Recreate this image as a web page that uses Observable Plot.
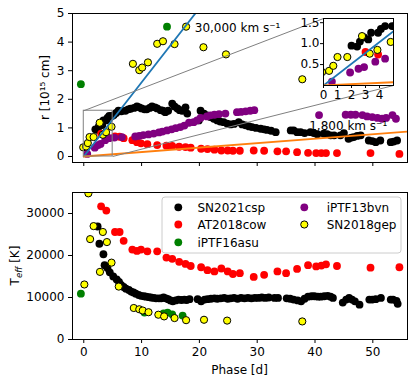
<!DOCTYPE html>
<html><head><meta charset="utf-8">
<script src="https://cdn.jsdelivr.net/npm/d3@7"></script>
<script src="https://cdn.jsdelivr.net/npm/@observablehq/plot@0.6"></script>
<style>
body{margin:0;background:#fff;font-family:"DejaVu Sans",sans-serif;}
#chart{position:relative;width:416px;height:385px;overflow:hidden;background:#fff;}
#chart svg{position:absolute;}
</style></head><body><div id="chart"></div>
<script>
// ---------- data ----------
const series = ["SN2021csp","AT2018cow","iPTF16asu","iPTF13bvn","SN2018gep"];
const seriesFill = ["black","red","green","purple","yellow"];
const seriesEdge = ["none","none","none","none","black"];

// radius panel (phase [d], r [1e15 cm])
const cspRPhase = [2.0,2.4,2.6,2.9,3.2,3.4,3.9,4.1,4.4,4.9,5.2,5.6,6.0,6.5,7.2,7.7,8.1,8.7,9.2,9.6,10.0,10.5,10.9,11.4,11.8,12.3,12.7,13.3,13.7,14.1,14.6,15.3,15.7,16.2,16.6,17.0,17.6,17.9,19.9,20.2,20.8,21.3,21.9,22.5,23.1,23.6,24.2,24.8,25.4,26.0,26.8,27.4,28.0,28.6,29.1,29.8,30.6,31.2,31.7,32.4,33.2,35.8,36.3,36.9,37.5,38.2,39.2,39.8,40.4,41.5,42.1,42.7,43.3,44.4,45.0,45.8,46.3,46.7,47.3,47.9,49.3,49.9,50.5,51.3,53.1,53.6,54.2];
const cspR = [0.95,0.93,1.05,1.15,1.1,1.26,1.26,1.35,1.42,1.42,1.45,1.52,1.6,1.58,1.6,1.65,1.67,1.7,1.75,1.72,1.68,1.65,1.65,1.7,1.75,1.72,1.68,1.62,1.6,1.55,1.6,1.85,1.75,1.68,1.62,1.6,1.72,1.5,1.26,1.6,1.5,1.44,1.38,1.32,1.26,1.22,1.2,1.15,1.12,1.14,1.2,1.12,1.09,1.05,1.03,1.0,0.97,0.95,0.93,0.9,0.85,0.91,0.91,0.85,0.85,0.82,0.85,0.82,0.78,0.8,0.78,0.74,0.74,0.74,0.82,0.62,0.66,0.68,0.72,0.74,0.56,0.54,0.5,0.56,0.5,0.52,0.56];

const cowPhase = [3.0,3.9,5.4,6.2,6.9,8.4,9.2,9.9,11.0,12.7,14.3,15.3,16.5,17.6,18.5,20.3,21.4,22.6,23.8,24.9,25.8,27.0,29.4,31.2,33.5,35.0,36.9,38.8,40.2,41.1,41.9,43.8,49.6,54.6];
const cowR = [0.80,0.74,0.70,0.69,0.64,0.57,0.50,0.46,0.43,0.40,0.38,0.37,0.34,0.33,0.31,0.27,0.26,0.24,0.21,0.21,0.20,0.20,0.21,0.20,0.18,0.18,0.15,0.13,0.12,0.12,0.12,0.12,0.12,0.09];
const cowT = [31700,30700,25600,25600,23500,21400,21100,21400,21000,21000,19500,19200,18500,18000,17500,17200,16500,16200,16900,16200,15600,15800,14900,15400,16200,15800,16800,17700,17400,17600,17900,17500,17100,17200];

const asuRPhase = [-0.5,14.4];
const asuR = [2.53,4.54];

const bvnRPhase = [0.6,1.9,2.5,2.9,3.7,4.4,5.3,6.6,8.9,9.6,10.3,11.2,12.1,13.0,13.6,14.4,15.2,15.9,16.7,17.4,18.2,19.0,19.6,20.2,21.3,21.9,22.6,23.4,24.5,26.5,27.2,28.0,28.8,29.5,40.7,45.3,46.2,47.0,48.2,49.0,49.9,50.8,51.6,52.3,53.4,54.0];
const bvnR = [0.09,0.31,0.4,0.44,0.57,0.64,0.66,0.68,0.7,0.72,0.75,0.77,0.8,0.84,0.87,0.91,0.95,0.99,1.03,1.08,1.18,1.2,1.26,1.35,1.4,1.44,1.46,1.48,1.5,1.55,1.56,1.58,1.6,1.62,1.45,1.46,1.46,1.46,1.45,1.4,1.38,1.35,1.32,1.35,1.45,1.32];

const gepRPhase = [-0.1,0.4,0.7,1.0,1.7,2.75,3.3,3.85,4.8,8.5,9.6,10.1,11.1,12.7,13.7,15.7,17.7,20.7,24.6,37.8];
const gepR = [0.32,0.35,0.47,0.68,0.68,1.18,0.76,0.85,1.04,3.24,3.02,3.11,3.29,3.94,4.03,3.93,4.54,3.82,3.57,2.70];

// temperature panel (phase [d], T_eff [K])
const cspTPhase = [2.4,2.7,3.4,3.6,4.1,4.5,5.1,5.7,6.1,6.45,6.9,7.3,7.8,8.2,8.6,9.0,9.5,9.9,10.4,10.8,11.2,11.6,12.1,12.5,13.0,13.4,13.8,14.2,14.6,15.0,15.4,15.9,16.4,16.9,17.4,17.8,18.3,19.7,20.3,20.9,21.4,22.0,22.6,23.1,23.7,24.3,24.9,25.4,26.0,26.6,27.2,27.8,28.4,29.0,29.6,30.2,30.8,31.4,32.0,33.0,33.6,35.1,35.7,36.3,37.0,37.6,38.2,38.8,39.4,39.9,40.5,41.0,41.6,42.2,42.7,43.1,44.8,45.4,45.9,46.4,46.9,47.7,49.4,49.9,50.5,51.4,53.1,53.5,54.1,54.3];
const cspT = [26900,22800,20300,17700,17000,16000,15000,14300,13700,13000,12500,12100,11800,11400,11200,10900,10600,10400,10300,10200,10100,10000,9900,9800,9800,9800,10000,9800,9600,9300,9100,9300,9500,9400,9500,9400,9600,9600,9100,9500,9600,9700,9800,9700,9800,9900,9700,9800,9900,9700,9900,9800,9900,9800,9900,9900,10000,9900,10000,9900,9900,9800,9700,9500,9300,9100,9700,10200,10300,10300,10200,10200,10300,10400,10200,9900,8800,9500,9900,9500,9100,8300,9500,9500,9600,9900,9500,9500,9200,8500];

const asuTPhase = [-0.5,10.5,13.8,14.5,15.3,17.1];
const asuT = [10900,6400,6200,6400,6000,5700];

const gepTPhase = [0.1,0.8,1.1,1.7,2.8,3.3,4.0,4.8,6.05,8.65,9.6,10.2,11.2,12.9,13.9,15.7,17.7,20.8,24.8,37.8];
const gepT = [13100,34800,23900,27000,16100,25600,23200,18300,12600,7500,7200,6900,6500,5900,5500,5100,4600,4700,4500,4300];

// ticks
const phaseTicks = [0,10,20,30,40,50];
const rTicks = [0,1,2,3,4,5];
const tTicks = [0,10000,20000,30000];
const insetXTicks = [0,1,2,3,4];
const insetYTicks = [0.5,1.0,1.5];

// zoomed region shown in inset
const insetX = [0,5];
const insetY = [0,1.6];

// expansion velocity lines
const velocities = [30000,1800];               // km/s
const velocityLabels = ["30,000 km s⁻¹","1,800 km s⁻¹"];
const velocityColors = ["#1f77b4","#ff7f0e"];

// ---------- layout ----------
const FONT = "DejaVu Sans";
const topXDomain = [-1.95,56.0], topYDomain = [-0.21,5];
const topM = {l:72,r:9,t:13,b:23}, topH = 185;
const botM = {l:72,r:9,t:7,b:46}, botH = 200, botTop = 185;
const inL = 293, inT = 16, inW = 106, inH = 91, inM = {l:30,r:6,t:2,b:22};
const velocityLabelAt = [[19.2,4.49],[39.0,1.07]];

const rRows = [
  d3.zip(cspRPhase,cspR), d3.zip(cowPhase,cowR), d3.zip(asuRPhase,asuR),
  d3.zip(bvnRPhase,bvnR), d3.zip(gepRPhase,gepR)
].map(a => a.map(([p,v]) => ({phase:p, v})));
const tRows = [
  d3.zip(cspTPhase,cspT), d3.zip(cowPhase,cowT), d3.zip(asuTPhase,asuT),
  [], d3.zip(gepTPhase,gepT)
].map(a => a.map(([p,v]) => ({phase:p, v})));

function dotMarks(rows) {
  return rows.map((data,i) => Plot.dot(data, {
    x:"phase", y:"v", r: seriesEdge[i]==="none" ? 3.9 : 3.6,
    fill: seriesFill[i], stroke: seriesEdge[i], strokeWidth: 1, clip: true
  }));
}
const slope = v => v*1e5*86400/1e15; // 1e15 cm per day
function velocityLines(xmax) {
  return velocities.map((v,i) => Plot.line([0,xmax].map(p => ({phase:p, v:slope(v)*p})),
    {x:"phase", y:"v", stroke: velocityColors[i], strokeWidth: 1.8, clip: true}));
}
const baseStyle = {fontFamily: FONT, fontSize:"12px", color:"black", background:"transparent"};

// top panel helper scales (for connectors)
const xTop = d3.scaleLinear(topXDomain,[topM.l, 416-topM.r]);
const yTop = d3.scaleLinear(topYDomain,[topH-topM.b, topM.t]);
const connectors = [
  {x1: insetX[0], y1: insetY[1], x2: xTop.invert(inL+inM.l), y2: yTop.invert(inT+inM.t)},
  {x1: insetX[1], y1: insetY[0], x2: xTop.invert(inL+inW-inM.r), y2: yTop.invert(inT+inH-inM.b)}
];

const topPlot = Plot.plot({
  width:416, height:topH, marginLeft:topM.l, marginRight:topM.r, marginTop:topM.t, marginBottom:topM.b,
  style: baseStyle,
  x:{domain:topXDomain, ticks:phaseTicks, tickFormat:()=>"", tickSize:4, tickPadding:4, label:null},
  y:{domain:topYDomain, ticks:rTicks, tickFormat:d3.format("d"), tickSize:4, tickPadding:4, label:null},
  marks:[
    ...dotMarks(rRows),
    ...velocityLines(topXDomain[1]),
    Plot.rect([{x1:insetX[0],x2:insetX[1],y1:insetY[0],y2:insetY[1]}], {x1:"x1",x2:"x2",y1:"y1",y2:"y2", fill:"none", stroke:"#808080", strokeWidth:1}),
    Plot.link(connectors, {x1:"x1",y1:"y1",x2:"x2",y2:"y2", stroke:"#808080", strokeWidth:1}),
    Plot.text(velocityLabels.map((t,i)=>({t, x:velocityLabelAt[i][0], y:velocityLabelAt[i][1]})),
      {x:"x", y:"y", text:"t", textAnchor:"start", fontSize:12, fill:"black"}),
    Plot.frame({stroke:"black", strokeWidth:1})
  ]
});

const insetPlot = Plot.plot({
  width:inW, height:inH, marginLeft:inM.l, marginRight:inM.r, marginTop:inM.t, marginBottom:inM.b,
  style: baseStyle,
  x:{domain:insetX, ticks:insetXTicks, tickFormat:d3.format("d"), tickSize:3, tickPadding:2, label:null},
  y:{domain:insetY, ticks:insetYTicks, tickFormat:d3.format(".1f"), tickSize:3, tickPadding:1, label:null},
  marks:[
    Plot.frame({fill:"white"}),
    ...dotMarks(rRows),
    ...velocityLines(insetX[1]),
    Plot.frame({stroke:"black", strokeWidth:1})
  ]
});

const botPlot = Plot.plot({
  width:416, height:botH, marginLeft:botM.l, marginRight:botM.r, marginTop:botM.t, marginBottom:botM.b,
  style: baseStyle,
  x:{domain:topXDomain, ticks:phaseTicks, tickFormat:d3.format("d"), tickSize:4, tickPadding:4, label:null},
  y:{domain:[0,35000], ticks:tTicks, tickFormat:d3.format("d"), tickSize:4, tickPadding:4, label:null},
  marks:[
    ...dotMarks(tRows),
    Plot.frame({stroke:"black", strokeWidth:1})
  ]
});

const chart = document.getElementById("chart");
topPlot.style.left="0px"; topPlot.style.top="0px";
botPlot.style.left="0px"; botPlot.style.top=botTop+"px";
insetPlot.style.left=inL+"px"; insetPlot.style.top=inT+"px";
chart.append(topPlot, botPlot, insetPlot);

// axis labels
const ts = d3.select(topPlot);
ts.append("text").attr("transform",`translate(45,${(topM.t+topH-topM.b)/2}) rotate(-90)`)
  .attr("text-anchor","middle").attr("dy","0.35em").attr("font-family",FONT).attr("font-size",12).attr("fill","black")
  .text("r [10¹⁵ cm]");
const bs = d3.select(botPlot);
const tl = bs.append("text").attr("transform",`translate(15,${(botM.t+botH-botM.b)/2}) rotate(-90)`)
  .attr("text-anchor","middle").attr("dy","0.35em").attr("font-family",FONT).attr("font-size",12).attr("fill","black");
tl.append("tspan").text("T");
tl.append("tspan").attr("font-size",8.5).attr("font-style","italic").attr("dy",3).text("eff");
tl.append("tspan").attr("dy",-3).text(" [K]");
bs.append("text").attr("x",(botM.l+416-botM.r)/2).attr("y",185).attr("text-anchor","middle").attr("dy","0.35em")
  .attr("font-family",FONT).attr("font-size",12).attr("fill","black").text("Phase [d]");

// legend
const lg = bs.append("g");
lg.append("rect").attr("x",162).attr("y",12).attr("width",239).attr("height",56).attr("rx",3).attr("ry",3)
  .style("fill","white").style("fill-opacity",0.8).style("stroke","#cccccc").style("stroke-width",1);
const markerX = [178.3,304.3], textX = [197.5,326.7], rowY = [22.3,39.5,57.3];
series.forEach((name,i)=>{
  const c = i<3?0:1, r = i<3?i:i-3;
  lg.append("circle").attr("cx",markerX[c]).attr("cy",rowY[r]).attr("r", seriesEdge[i]==="none"?3.9:3.6)
    .style("fill",seriesFill[i]).style("stroke",seriesEdge[i]).style("stroke-width",1);
  lg.append("text").attr("x",textX[c]).attr("y",rowY[r]).attr("dy","0.35em").attr("text-anchor","start")
    .attr("font-family",FONT).attr("font-size",12).attr("fill","black").text(name);
});
</script></body></html>
